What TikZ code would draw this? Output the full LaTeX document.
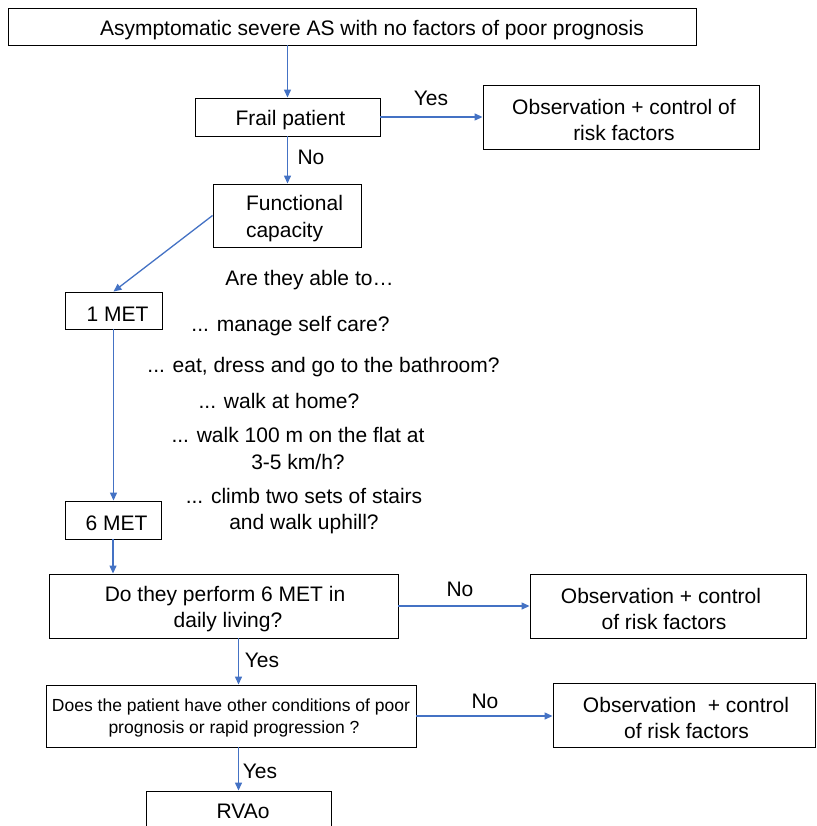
\documentclass[tikz,border=0pt]{standalone}
\usepackage{fontspec}
\setmainfont{Liberation Sans}
\usetikzlibrary{arrows.meta}
\definecolor{arrowblue}{RGB}{68,114,196}
\newcommand{\mainfs}{\fontsize{21}{26.5}\selectfont}
\newcommand{\smallfs}{\fontsize{17.5}{22}\selectfont}
\newcommand{\boxstrut}{\rule{0pt}{21.5pt}}
\newcommand{\smallstrut}{\rule{0pt}{16.5pt}}
\begin{document}
\begin{tikzpicture}[x=1pt,y=-1pt,
  box/.style={draw=black, line width=0.9pt, inner sep=0pt, align=center, font=\mainfs},
  lbl/.style={inner sep=0pt, align=center, font=\mainfs},
  arr/.style={draw=arrowblue, line width=1.3pt, -{Triangle[length=8pt,width=7pt]}}
]
\useasboundingbox (0,0) rectangle (816,826);

% boxes
\node[box, minimum width=688, minimum height=37] (top) at (352,26.5) {\boxstrut\hspace*{40pt}Asymptomatic severe AS with no factors of poor prognosis};
\node[box, minimum width=185, minimum height=38] (frail) at (287.5,117) {\boxstrut\hspace*{6pt}Frail patient};
\node[box, minimum width=276, minimum height=64] (obs1) at (621,117) {\boxstrut\hspace*{6pt}Observation + control of\\\hspace*{6pt}risk factors};
\node[box, minimum width=148, minimum height=63, align=left] (func) at (287,215.5) {\boxstrut\hspace*{15pt}Functional\\\hspace*{15pt}capacity};
\node[box, minimum width=97, minimum height=37] (met1) at (113.5,310.5) {\boxstrut\hspace*{8pt}1 MET};
\node[box, minimum width=96, minimum height=38] (met6) at (113,520) {\boxstrut\hspace*{7pt}6 MET};
\node[box, minimum width=349, minimum height=64] (do) at (223.5,606) {\boxstrut\hspace*{3pt}Do they perform 6 MET in\\\hspace*{9pt}daily living?};
\node[box, minimum width=276, minimum height=64] (obs2) at (668,606) {\boxstrut Observation + control\hspace*{14pt}\\of risk factors\hspace*{8pt}};
\node[box, minimum width=370, minimum height=62, font=\smallfs] (does) at (231,716) {\smallstrut Does the patient have other conditions of poor\\\hspace*{6pt}prognosis or rapid progression ?};
\node[box, minimum width=262, minimum height=64] (obs3) at (684,715) {\boxstrut\hspace*{4pt}Observation\ \ + control\\\hspace*{5pt}of risk factors};
\node[box, minimum width=185, minimum height=40] (rvao) at (238.5,811) {\hspace*{9pt}RVAo};

% free texts
\node[lbl] (able) at (309.5,280) {Are they able to…};
\node[lbl] (q1) at (290.5,326) {... manage self care?};
\node[lbl] (q2) at (323.5,367.5) {... eat, dress and go to the bathroom?};
\node[lbl] (q3) at (279,400.5) {... walk at home?};
\node[lbl] (q4) at (298,448.5) {... walk 100 m on the flat at\\3-5 km/h?};
\node[lbl] (q5) at (304,511) {... climb two sets of stairs\\and walk uphill?};

% connectors
\draw[arr] (frail.north |- top.south) -- (frail.north);
\draw[arr] (frail.east) -- (obs1.west |- frail.east);
\node[lbl] (yes1) at (431,98) {Yes};
\draw[arr] (frail.south) -- (frail.south |- func.north);
\node[lbl] (no1) at (311,157) {No};
\draw[arr] (func.west) -- (met1.north);
\draw[arr] (met1.south) -- (met1.south |- met6.north);
\draw[arr] (met6.south) -- (met6.south |- do.north);
\draw[arr] (do.east) -- (obs2.west);
\node[lbl] (no2) at (460,589) {No};
\draw[arr] (do.south -| rvao.north) -- (does.north -| rvao.north);
\node[lbl] (yes2) at (262,660) {Yes};
\draw[arr] (does.east) -- (obs3.west |- does.east);
\node[lbl] (no3) at (485,701) {No};
\draw[arr] (does.south -| rvao.north) -- (rvao.north);
\node[lbl] (yes3) at (260,771) {Yes};
\end{tikzpicture}
\end{document}
